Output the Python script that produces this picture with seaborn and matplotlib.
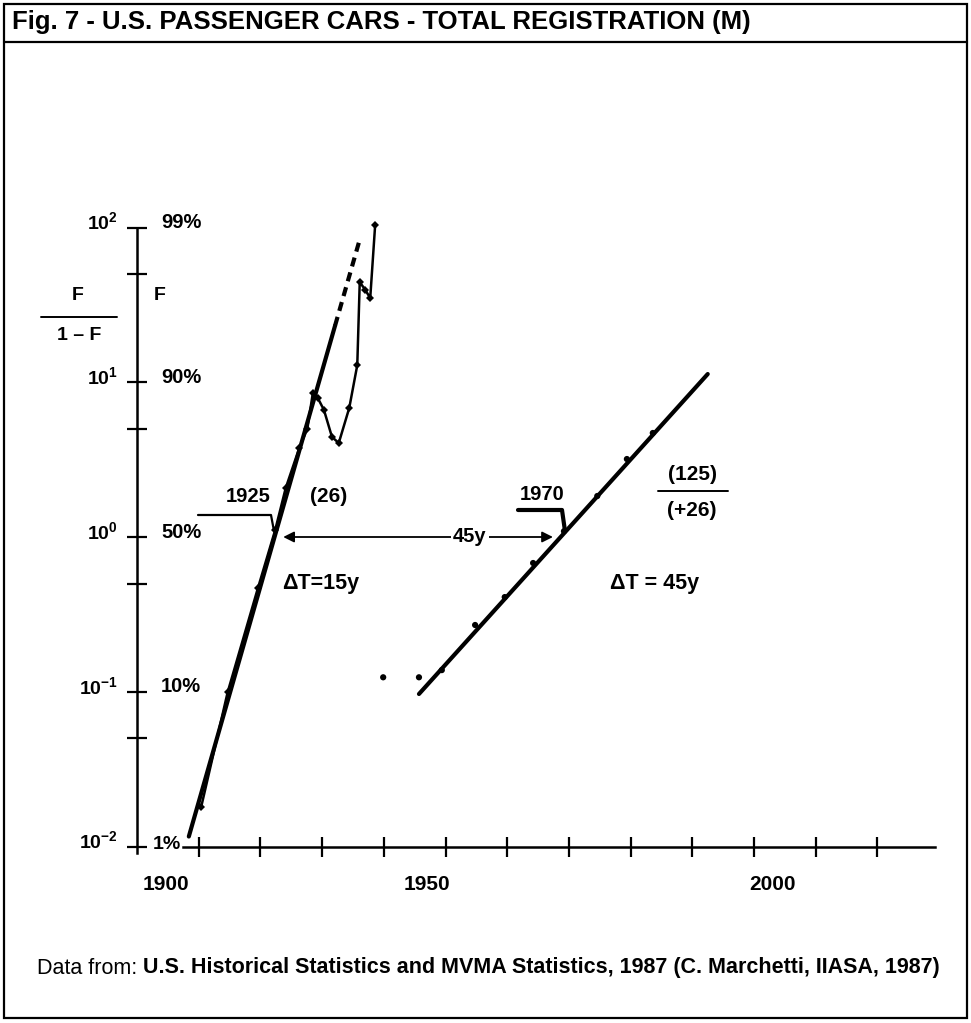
import matplotlib
matplotlib.use("Agg")
import matplotlib.pyplot as plt
import numpy as np
import pandas as pd
import seaborn as sns
from matplotlib.lines import Line2D
from matplotlib.patches import Rectangle
from matplotlib.ticker import FixedLocator, NullFormatter, NullLocator

# ---------------- data ----------------
# first pulse: F/(1-F), saturation 26 M
pulse1_years = [1910.4, 1914.7, 1919.6, 1922.4, 1924.1, 1926.3, 1927.6, 1928.5, 1929.3,
                1930.3, 1931.6, 1932.7, 1934.4, 1935.7, 1936.1, 1937.0, 1937.8, 1938.6]
pulse1_ratio = [0.018, 0.0996, 0.468, 1.11, 2.07, 3.76, 4.99, 8.52, 7.91,
                6.62, 4.43, 4.05, 6.82, 12.9, 44.4, 39.5, 35.0, 104.0]
# fitted logistic of the first pulse (last segment dashed)
fit1_years = [1908.4, 1932.1, 1936.1]
fit1_ratio = [0.0116, 23.2, 83.6]
# second pulse: saturation 125 M on top of 26 M
pulse2_years = [1939.9, 1945.7, 1949.4, 1954.8, 1959.6, 1964.2, 1969.2, 1974.6, 1979.4, 1983.6]
pulse2_ratio = [0.124, 0.124, 0.138, 0.270, 0.409, 0.679, 1.09, 1.84, 3.19, 4.70]
fit2_years = [1945.7, 1992.5]
fit2_ratio = [0.0967, 11.3]

y_ticks = [0.01, 0.1, 1, 10, 100]
y_minor_ticks = [0.05, 0.5, 5, 50]
y_labels_ratio = [r"$\mathbf{10^{-2}}$", r"$\mathbf{10^{-1}}$", r"$\mathbf{10^{0}}$",
                  r"$\mathbf{10^{1}}$", r"$\mathbf{10^{2}}$"]
y_labels_share = ["1%", "10%", "50%", "90%", "99%"]
x_ticks = [1910, 1920, 1930, 1940, 1950, 1960, 1970, 1980, 1990, 2000, 2010, 2020]
x_labels = ["1900", "1950", "2000"]

title = "Fig. 7 - U.S. PASSENGER CARS - TOTAL REGISTRATION (M)"
source_lead = "Data from:"
source_text = "U.S. Historical Statistics and MVMA Statistics, 1987 (C. Marchetti, IIASA, 1987)"
mid1_label, mid2_label = "1925", "1970"
sat1_label = "(26)"
sat2_num, sat2_den = "(125)", "(+26)"
dt1_label = "\u0394T=15y"
dt2_label = "\u0394T = 45y"
gap_label = "45y"

# ---------------- style ----------------
W, H = 971, 1023
sns.set_theme(style="ticks", rc={
    "axes.edgecolor": "black", "xtick.color": "black", "ytick.color": "black",
    "text.color": "black", "axes.linewidth": 1.8,
})
plt.rcParams["font.family"] = ["Liberation Sans", "DejaVu Sans"]
plt.rcParams["font.weight"] = "bold"
plt.rcParams["mathtext.fontset"] = "custom"
plt.rcParams["mathtext.bf"] = "Liberation Sans:bold"
plt.rcParams["mathtext.rm"] = "Liberation Sans:bold"

fig = plt.figure(figsize=(W / 100, H / 100), dpi=100)
fig.patch.set_facecolor("white")

X0, PXY = 137.0, 6.17      # pixel of year 1900, pixels per year
Y0, PXD = 537.0, 154.75    # pixel of ratio 1, pixels per decade
AX_L, AX_R, AX_T, AX_B = 100, 950, 180, 880
ax = fig.add_axes([AX_L / W, 1 - AX_B / H, (AX_R - AX_L) / W, (AX_B - AX_T) / H])
ax.set_yscale("log")
ax.set_xlim(1900 + (AX_L - X0) / PXY, 1900 + (AX_R - X0) / PXY)
ax.set_ylim(10 ** ((Y0 - AX_B) / PXD), 10 ** ((Y0 - AX_T) / PXD))
ax.patch.set_alpha(0)

for s in ("top", "right"):
    ax.spines[s].set_visible(False)
ax.spines["left"].set_position(("data", 1900))
ax.spines["left"].set_bounds(10 ** ((Y0 - 853) / PXD), y_ticks[-1])
ax.spines["bottom"].set_position(("data", y_ticks[0]))
ax.spines["bottom"].set_bounds(1907.5, 2029.3)
ax.spines["left"].set_linewidth(1.8)
ax.spines["bottom"].set_linewidth(1.8)

ax.xaxis.set_major_locator(FixedLocator(x_ticks))
ax.xaxis.set_minor_locator(NullLocator())
ax.yaxis.set_major_locator(FixedLocator(y_ticks))
ax.yaxis.set_minor_locator(FixedLocator(y_minor_ticks))
ax.yaxis.set_minor_formatter(NullFormatter())
ax.tick_params(axis="both", which="both", direction="inout", length=14.4, width=1.6,
               labelbottom=False, labelleft=False)

# ---------------- marks ----------------
fit1 = pd.DataFrame({"year": fit1_years, "ratio": fit1_ratio})
sns.lineplot(data=fit1.iloc[:2], x="year", y="ratio", ax=ax, color="black", lw=3.0,
             estimator=None, sort=False)
sns.lineplot(data=fit1.iloc[1:], x="year", y="ratio", ax=ax, color="black", lw=3.0,
             linestyle=(0, (2.2, 1.5)), estimator=None, sort=False)
fit2 = pd.DataFrame({"year": fit2_years, "ratio": fit2_ratio})
sns.lineplot(data=fit2, x="year", y="ratio", ax=ax, color="black", lw=3.0,
             estimator=None, sort=False)

p1 = pd.DataFrame({"year": pulse1_years, "ratio": pulse1_ratio})
sns.lineplot(data=p1, x="year", y="ratio", ax=ax, color="black", lw=1.8, marker="D",
             markersize=4.5, markeredgewidth=0, estimator=None, sort=False)
p2 = pd.DataFrame({"year": pulse2_years, "ratio": pulse2_ratio})
sns.scatterplot(data=p2, x="year", y="ratio", ax=ax, color="black", s=20,
                marker="o", edgecolor="none")
ax.set_xlabel("")
ax.set_ylabel("")

# mid-points (F = 50 %) of the two fitted lines
def mid_year(ys, rs):
    l0, l1 = np.log10(rs[0]), np.log10(rs[1])
    return ys[0] + (0 - l0) / (l1 - l0) * (ys[1] - ys[0])

mid1 = mid_year(fit1_years, fit1_ratio)
mid2 = mid_year(fit2_years, fit2_ratio)
ax.annotate("", xy=(mid1 + 1.4, 1), xytext=(mid2 - 1.25, 1),
            arrowprops=dict(arrowstyle="<|-|>", lw=1.3, color="black",
                            mutation_scale=16, shrinkA=0, shrinkB=0))
ax.text((mid1 + mid2) / 2 + 8.5, 1, gap_label, ha="center", va="center", fontsize=14.5,
        fontweight="bold", bbox=dict(facecolor="white", edgecolor="none", pad=1.5))

# ---------------- text / decoration in figure pixels ----------------
def ftxt(px, py, s, **kw):
    kw.setdefault("fontweight", "bold")
    return fig.text(px / W, 1 - py / H, s, **kw)

def fline(xs, ys, **kw):
    fig.add_artist(Line2D([x / W for x in xs], [1 - y / H for y in ys],
                          transform=fig.transFigure, color="black", **kw))

for v, lab_l, lab_r in zip(y_ticks, y_labels_ratio, y_labels_share):
    py = Y0 - np.log10(v) * PXD
    ftxt(118, py - 5, lab_l, ha="right", va="center", fontsize=14)
    if v == y_ticks[0]:
        ftxt(153, py - 2, lab_r, ha="left", va="center", fontsize=14)
    else:
        ftxt(161, py - 5, lab_r, ha="left", va="center", fontsize=14.5)

for px, lab in zip([166, 427, 772], x_labels):
    ftxt(px, 884, lab, ha="center", va="center", fontsize=15)

ftxt(160, 296, "F", ha="center", va="center", fontsize=14)
ftxt(78, 296, "F", ha="center", va="center", fontsize=14)
fline([41, 117], [317, 317], lw=1.4)
ftxt(79, 336, "1 \u2013 F", ha="center", va="center", fontsize=14)

# 1925 / 1970 call-outs
ftxt(248, 497, mid1_label, ha="center", va="center", fontsize=14.5)
fline([198, 271, 274], [515, 515, 531], lw=1.6)
ftxt(542, 495, mid2_label, ha="center", va="center", fontsize=14.5)
fline([518, 562, 565], [510, 510, 531], lw=3.0)

ftxt(329, 497, sat1_label, ha="center", va="center", fontsize=15)
ftxt(692, 474, sat2_num, ha="center", va="center", fontsize=15)
fline([658, 728], [491, 491], lw=1.4)
ftxt(692, 510, sat2_den, ha="center", va="center", fontsize=15)
ftxt(321, 584, dt1_label, ha="center", va="center", fontsize=15.5)
ftxt(655, 583, dt2_label, ha="center", va="center", fontsize=15.5)

# header, frame, footer
ftxt(12, 22, title, ha="left", va="center", fontsize=18.5)
fig.add_artist(Rectangle((4 / W, 1 - 1018 / H), 963 / W, 1014 / H, fill=False,
                         lw=1.6, edgecolor="black", transform=fig.transFigure))
fline([4, 967], [42, 42], lw=1.6)

t_lead = ftxt(37, 968, source_lead, ha="left", va="center", fontsize=15.5, fontweight="normal")
fig.canvas.draw()
bb = t_lead.get_window_extent()
ftxt(bb.x1 + 6, 968, source_text, ha="left", va="center", fontsize=15.5)

fig.savefig("out.png", dpi=100, facecolor="white")
